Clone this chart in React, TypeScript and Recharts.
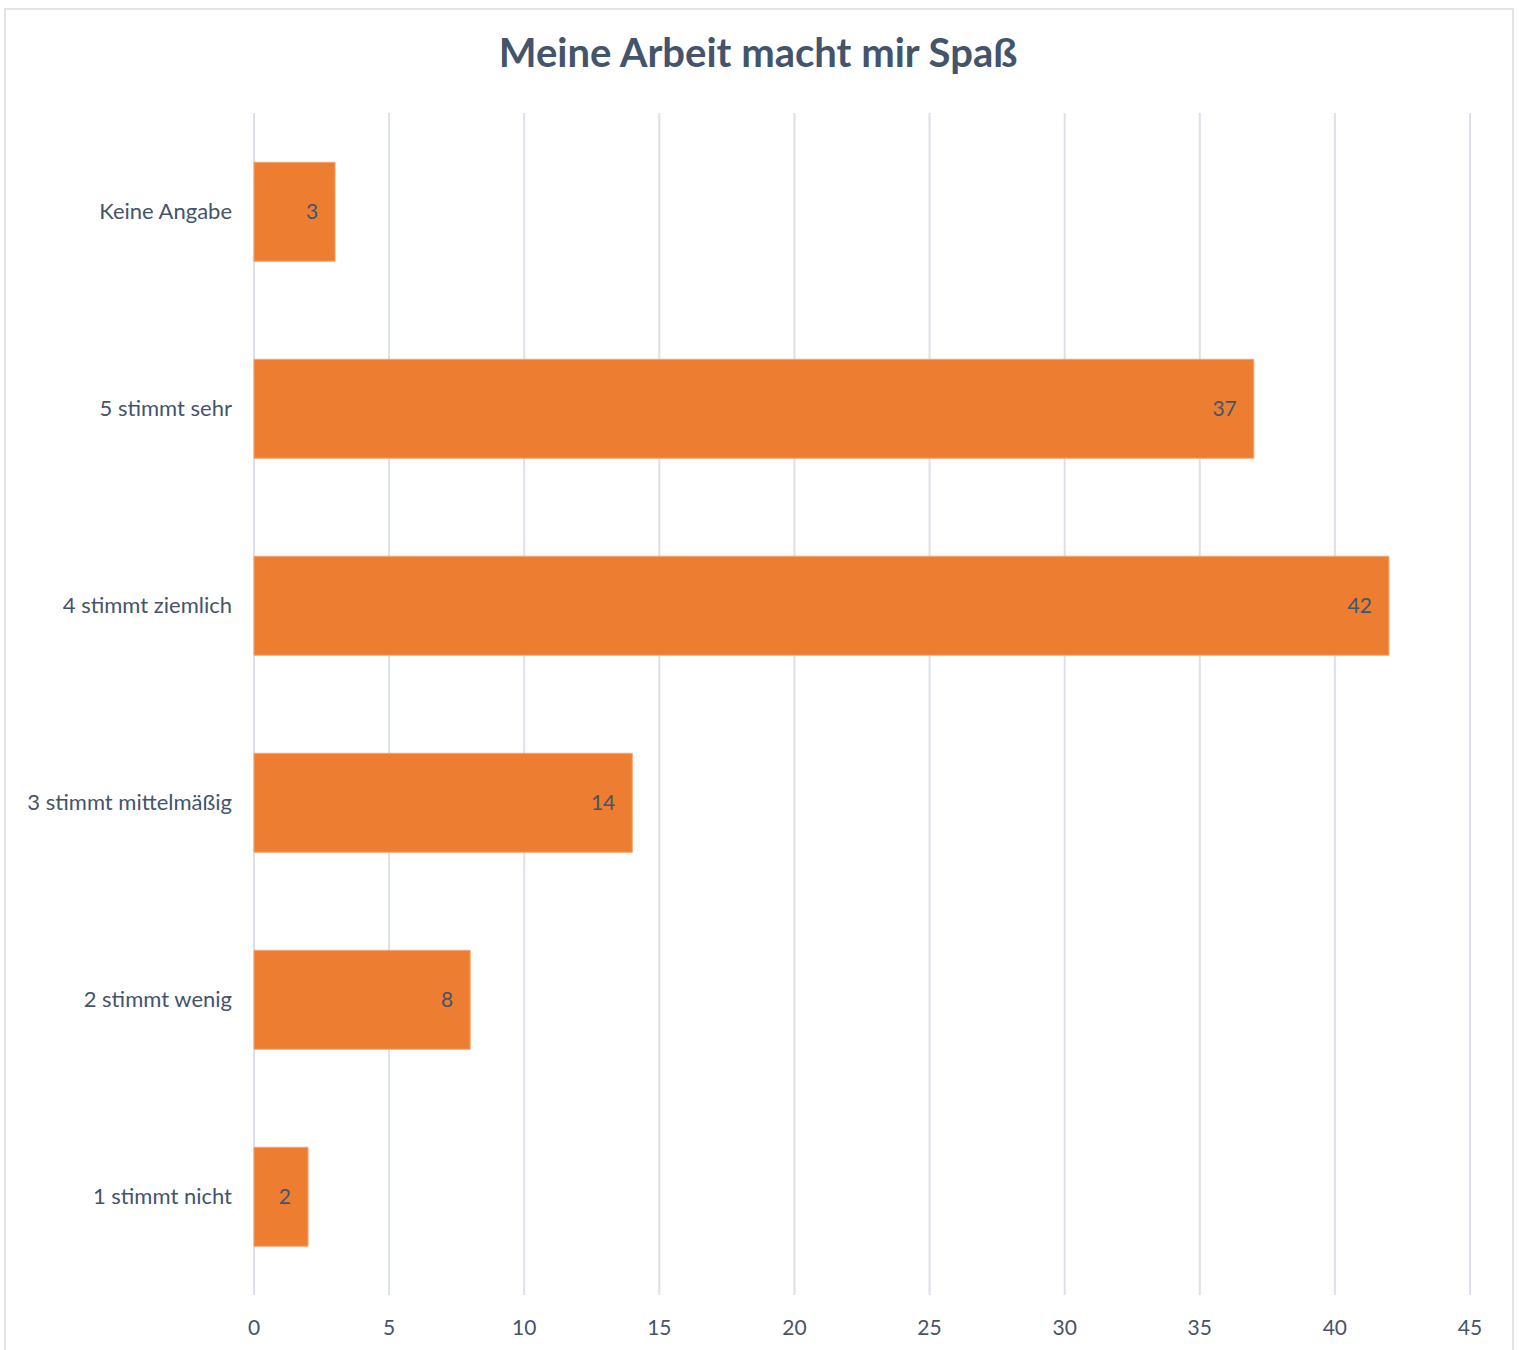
import React from "react";
import { BarChart, Bar, XAxis, YAxis, CartesianGrid, LabelList } from "recharts";

const categories = [
  "Keine Angabe",
  "5 stimmt sehr",
  "4 stimmt ziemlich",
  "3 stimmt mittelmäßig",
  "2 stimmt wenig",
  "1 stimmt nicht",
];
const values = [3, 37, 42, 14, 8, 2];
const xTicks = [0, 5, 10, 15, 20, 25, 30, 35, 40, 45];
const title = "Meine Arbeit macht mir Spaß";

const data = categories.map((c, i) => ({ name: c, value: values[i] }));

const TEXT = "#44546a";
const FONT = "Lato, 'Open Sans', sans-serif";

export default function App() {
  return (
    <div style={{ position: "absolute", left: 0, top: 0, width: 1519, height: 1350, background: "#fff", fontFamily: FONT }}>
      <div
        style={{
          position: "absolute",
          left: 4,
          top: 8,
          width: 1510,
          height: 1350,
          border: "2px solid #e1e4ea",
          boxSizing: "border-box",
        }}
      />
      <div
        style={{
          position: "absolute",
          left: 4,
          top: 28,
          width: 1508,
          textAlign: "center",
          fontSize: 40,
          fontWeight: 700,
          color: TEXT,
          fontFamily: FONT,
        }}
      >
        {title}
      </div>
      <div style={{ position: "absolute", left: 0, top: 0 }}>
        <BarChart
          width={1519}
          height={1350}
          data={data}
          layout="vertical"
          margin={{ top: 113, right: 49, bottom: 15, left: 0 }}
          barCategoryGap="25%"
        >
          <CartesianGrid horizontal={false} stroke="#dce0e8" strokeWidth={2} />
          <XAxis
            type="number"
            domain={[0, 45]}
            ticks={xTicks}
            axisLine={false}
            tickLine={false}
            tickMargin={19}
            height={40}
            tick={{ fill: TEXT, fontSize: 21, fontFamily: FONT }}
            interval={0}
          />
          <YAxis
            type="category"
            dataKey="name"
            width={254}
            axisLine={false}
            tickLine={false}
            tickMargin={16}
            tick={{ fill: TEXT, fontSize: 22, fontFamily: FONT }}
            interval={0}
          />
          <Bar dataKey="value" fill="#ed7d31" stroke="#f4a676" strokeWidth={1} isAnimationActive={false}>
            <LabelList
              dataKey="value"
              position="insideRight"
              offset={17}
              fill={TEXT}
              fontSize={21}
              fontFamily={FONT}
            />
          </Bar>
        </BarChart>
      </div>
    </div>
  );
}
